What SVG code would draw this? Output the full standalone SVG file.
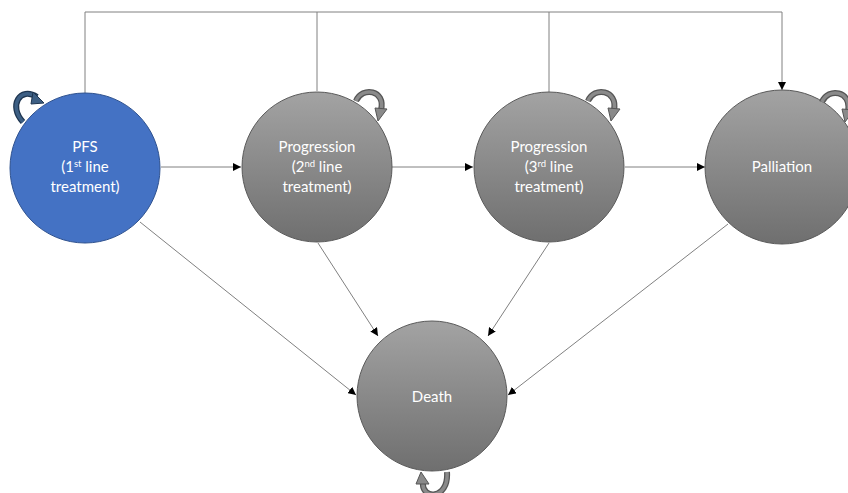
<svg xmlns="http://www.w3.org/2000/svg" width="848" height="493" viewBox="0 0 848 493">
<defs>
<linearGradient id="gg" x1="0" y1="0" x2="0" y2="1">
<stop offset="0" stop-color="#a3a3a3"/>
<stop offset="1" stop-color="#6f6f6f"/>
</linearGradient>
<marker id="ah" viewBox="0 0 10 10" refX="10" refY="5" markerWidth="8" markerHeight="8" markerUnits="userSpaceOnUse" orient="auto">
<path d="M0,0 L10,5 L0,10 z" fill="#000"/>
</marker>
</defs>
<style>
.node{stroke:#5a5a5a;stroke-width:1}
.gray{fill:url(#gg)}
.blue{fill:#4472c4;stroke:#2f528f}
.lbl{font-family:Lato,"Open Sans","Liberation Sans",sans-serif;font-size:15px;fill:#ffffff;text-anchor:middle}
.sup{font-size:9.5px}
.conn line,.conn polyline{stroke:#808080;stroke-width:1;fill:none}
.arr{marker-end:url(#ah)}
.loopo{fill:none;stroke-width:6;stroke-linecap:butt}
.loopi{fill:none;stroke-width:3.5;stroke-linecap:butt}
</style>
<g class="conn" id="connectors">
<polyline points="85,93 85,12 782,12 782,90" class="arr"/>
<line x1="317" y1="12" x2="317" y2="91"/>
<line x1="549" y1="12" x2="549" y2="92"/>
<line x1="161" y1="167" x2="241" y2="167" class="arr"/>
<line x1="392" y1="167" x2="473" y2="167" class="arr"/>
<line x1="625" y1="167" x2="705" y2="167" class="arr"/>
<line x1="140" y1="222" x2="356" y2="395" class="arr"/>
<line x1="318" y1="243" x2="378" y2="336" class="arr"/>
<line x1="549" y1="243" x2="488" y2="336" class="arr"/>
<line x1="728" y1="224" x2="508" y2="395" class="arr"/>
</g>
<g id="pfs">
<circle cx="85" cy="168" r="75" class="node blue"/>
<text class="lbl" x="85" y="152">PFS</text>
<text class="lbl" x="85" y="172">(1<tspan class="sup" dy="-5">st</tspan><tspan dy="5"> line</tspan></text>
<text class="lbl" x="85" y="192">treatment)</text>
<path class="loopo" stroke="#1e3550" d="M23,122 C8,106 20,86 37,97"/>
<path class="loopi" stroke="#3d5f84" d="M23,122 C8,106 20,86 37,97"/>
<polygon points="33,92 44,103 31,104" fill="#3d5f84" stroke="#1e3550" stroke-width="1"/>
</g>
<g id="prog2">
<circle cx="317" cy="167" r="75" class="node gray"/>
<text class="lbl" x="317" y="152">Progression</text>
<text class="lbl" x="317" y="172">(2<tspan class="sup" dy="-5">nd</tspan><tspan dy="5"> line</tspan></text>
<text class="lbl" x="317" y="192">treatment)</text>
<path class="loopo" stroke="#555" d="M356,101 C362,86 386,90 381,110"/>
<path class="loopi" stroke="#8a8a8a" d="M356,101 C362,86 386,90 381,110"/>
<polygon points="375,108 387,109 378,121" fill="#8a8a8a" stroke="#555" stroke-width="1"/>
</g>
<g id="prog3">
<circle cx="549" cy="167" r="75" class="node gray"/>
<text class="lbl" x="549" y="152">Progression</text>
<text class="lbl" x="549" y="172">(3<tspan class="sup" dy="-5">rd</tspan><tspan dy="5"> line</tspan></text>
<text class="lbl" x="549" y="192">treatment)</text>
<path class="loopo" stroke="#555" d="M588,101 C594,86 618,90 614,110"/>
<path class="loopi" stroke="#8a8a8a" d="M588,101 C594,86 618,90 614,110"/>
<polygon points="608,108 620,109 611,121" fill="#8a8a8a" stroke="#555" stroke-width="1"/>
</g>
<g id="palliation">
<circle cx="782" cy="167" r="77" class="node gray"/>
<text class="lbl" x="782" y="172">Palliation</text>
<path class="loopo" stroke="#555" d="M822,102 C828,87 852,91 848,111"/>
<path class="loopi" stroke="#8a8a8a" d="M822,102 C828,87 852,91 848,111"/>
<polygon points="842,109 854,110 845,122" fill="#8a8a8a" stroke="#555" stroke-width="1"/>
</g>
<g id="death">
<circle cx="432" cy="396" r="75" class="node gray"/>
<text class="lbl" x="432" y="402">Death</text>
<path class="loopo" stroke="#555" d="M447,472 C449,500 421,500 423,482"/>
<path class="loopi" stroke="#8a8a8a" d="M447,472 C449,500 421,500 423,482"/>
<polygon points="416,484 429,484 421,472" fill="#8a8a8a" stroke="#555" stroke-width="1"/>
</g>
</svg>
